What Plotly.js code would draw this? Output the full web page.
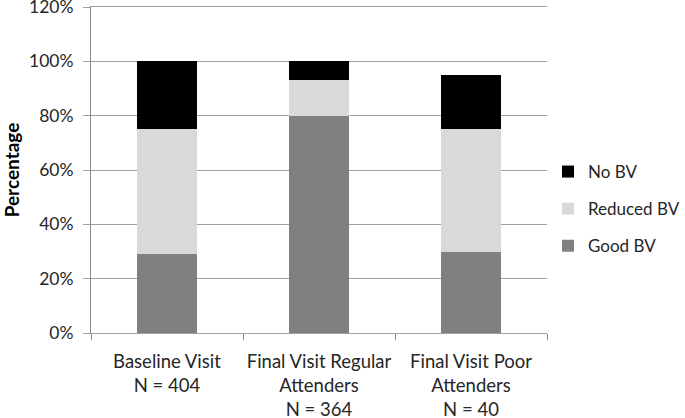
<!DOCTYPE html>
<html>
<head>
<meta charset="utf-8">
<script src="https://cdn.plot.ly/plotly-3.0.1.min.js"></script>
<style>html,body{margin:0;padding:0;background:#fff;}#chart{width:685px;height:418px;}</style>
</head>
<body>
<div id="chart"></div>
<script>
const categories = ["Baseline Visit<br>N = 404", "Final Visit Regular<br>Attenders<br>N = 364", "Final Visit Poor<br>Attenders<br>N = 40"];
const goodBV = [29, 80, 30];
const reducedBV = [46, 13, 45];
const noBV = [25, 7, 20];
const yTickVals = [0, 20, 40, 60, 80, 100, 120];
const yTickText = ["0%", "20%", "40%", "60%", "80%", "100%", "120%"];

const FONT = "Lato, 'Open Sans', sans-serif";
const traces = [
  {type: "bar", name: "Good BV", legendgroup: "g", legendrank: 3, x: categories, y: goodBV, marker: {color: "#808080"}},
  {type: "bar", name: "Reduced BV", legendgroup: "r", legendrank: 2, x: categories, y: reducedBV, marker: {color: "#d9d9d9"}},
  {type: "bar", name: "No BV", legendgroup: "n", legendrank: 1, x: categories, y: noBV, marker: {color: "#000000"}}
];
const layout = {
  width: 685, height: 418,
  margin: {l: 91, r: 138, t: 7, b: 85, pad: 0},
  barmode: "stack",
  bargap: 0.6,
  paper_bgcolor: "#fff", plot_bgcolor: "#fff",
  font: {family: FONT, size: 18, color: "#262626"},
  showlegend: true,
  legend: {xref: "container", yref: "container", x: 0.8, xanchor: "left", y: 0.5, yanchor: "middle",
           traceorder: "grouped", tracegroupgap: 12,
           font: {family: FONT, size: 17, color: "#262626"}, bgcolor: "rgba(0,0,0,0)"},
  xaxis: {
    type: "category", showline: true, linecolor: "#a0a0a0", linewidth: 1, mirror: true,
    ticks: "outside", tickson: "boundaries", ticklen: 6, tickcolor: "#888",
    ticklabelstandoff: 12, tickangle: 0,
    showgrid: false, tickfont: {family: FONT, size: 18.5, color: "#262626"}
  },
  yaxis: {
    range: [0, 120], tickvals: yTickVals, ticktext: yTickText,
    showline: true, linecolor: "#888", linewidth: 1,
    ticks: "outside", ticklen: 7, tickcolor: "#a0a0a0", ticklabeloverflow: "allow",
    ticklabelstandoff: 6,
    showgrid: true, gridcolor: "#a0a0a0", gridwidth: 1, zeroline: false,
    tickfont: {family: FONT, size: 17.5, color: "#262626"},
    title: {text: "<b>Percentage</b>", font: {family: FONT, size: 19, color: "#000"}, standoff: 7}
  }
};
Plotly.newPlot("chart", traces, layout, {staticPlot: true, displayModeBar: false});
</script>
</body>
</html>
